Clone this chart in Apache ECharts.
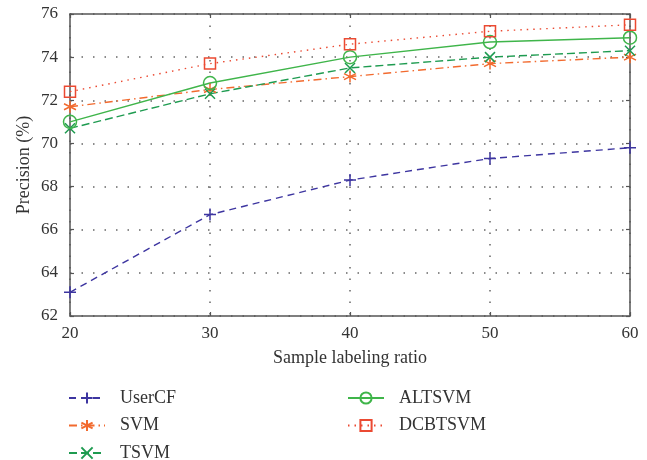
<!DOCTYPE html>
<html>
<head>
<meta charset="utf-8">
<script src="https://cdn.jsdelivr.net/npm/echarts@6/dist/echarts.min.js"></script>
<style>
  html, body { margin: 0; padding: 0; background: #fff; }
  #chart { width: 647px; height: 460px; }
</style>
</head>
<body>
<div id="chart"></div>
<script>
// Labeling ratios (x) and precision (%) of each method
const ratios = [20, 30, 40, 50, 60];
const userCF  = [63.1, 66.7, 68.3, 69.3, 69.8];
const svm     = [71.7, 72.5, 73.1, 73.7, 74.0];
const tsvm    = [70.7, 72.3, 73.5, 74.0, 74.3];
const altsvm  = [71.0, 72.8, 74.0, 74.7, 74.9];
const dcbtsvm = [72.4, 73.7, 74.6, 75.2, 75.5];

const FONT = '"Liberation Serif", "DejaVu Serif", serif';

const PLUS = 'path://M0,5L10,5M5,0L5,10';
const CROSS = 'path://M0,0L10,10M0,10L10,0';
const STAR = 'path://M5,0L5,10M0.7,2.5L9.3,7.5M0.7,7.5L9.3,2.5';

function pairs(vals) {
  return ratios.map((r, i) => [r, vals[i]]);
}

function mkSeries(name, vals, color, dash, symbol, size, width) {
  return {
    name: name,
    type: 'line',
    data: pairs(vals),
    xAxisIndex: 0,
    yAxisIndex: 0,
    symbol: symbol,
    symbolSize: size,
    showAllSymbol: true,
    color: color,
    lineStyle: { color: color, width: width || 1.4, type: dash },
    itemStyle: { color: 'rgba(255,255,255,0)', borderColor: color, borderWidth: 1.5 },
    emphasis: { disabled: true },
    animation: false,
    z: 3
  };
}

const gridLine = { show: true, lineStyle: { color: '#666', width: 1.5, type: [1.5, 10] } };
const axisLine = { show: true, lineStyle: { color: '#555', width: 1.5 } };
const tickIn = { show: true, inside: true, length: 4, lineStyle: { color: '#555', width: 1.2 } };

const legendText = { fontFamily: FONT, fontSize: 18, lineHeight: 18, color: '#333', padding: [0, 0, 0, 10] };

const chart = echarts.init(document.getElementById('chart'), null, { renderer: 'canvas' });
chart.setOption({
  backgroundColor: '#fff',
  animation: false,
  grid: { left: 70, right: 17, top: 14, bottom: 144 },
  xAxis: [
    {
      type: 'value', min: 20, max: 60, interval: 10, position: 'bottom',
      name: 'Sample labeling ratio', nameLocation: 'middle', nameGap: 33,
      nameTextStyle: { fontFamily: FONT, fontSize: 18, color: '#333' },
      axisLine: axisLine, axisTick: tickIn,
      axisLabel: { fontFamily: FONT, fontSize: 17, color: '#333', margin: 9 },
      splitLine: gridLine
    },
    {
      type: 'value', min: 20, max: 60, interval: 10, position: 'top',
      axisLine: axisLine, axisTick: tickIn, axisLabel: { show: false }, splitLine: { show: false }
    }
  ],
  yAxis: [
    {
      type: 'value', min: 62, max: 76, interval: 2, position: 'left',
      name: 'Precision (%)', nameLocation: 'middle', nameGap: 37, nameRotate: 90,
      nameMoveOverlap: false,
      nameTextStyle: { fontFamily: FONT, fontSize: 18, color: '#333' },
      axisLine: axisLine, axisTick: tickIn,
      axisLabel: { fontFamily: FONT, fontSize: 17, color: '#333', margin: 12 },
      splitLine: gridLine
    },
    {
      type: 'value', min: 62, max: 76, interval: 2, position: 'right',
      axisLine: axisLine, axisTick: tickIn, axisLabel: { show: false }, splitLine: { show: false }
    }
  ],
  legend: [
    {
      data: ['UserCF', 'SVM', 'TSVM'],
      orient: 'vertical', left: 68, top: 389, height: 80, padding: 0,
      itemWidth: 36, itemHeight: 14, itemGap: 9.5,
      textStyle: legendText
    },
    {
      data: ['ALTSVM', 'DCBTSVM'],
      orient: 'vertical', left: 347, top: 389, height: 80, padding: 0,
      itemWidth: 36, itemHeight: 14, itemGap: 9.5,
      textStyle: legendText
    }
  ],
  series: [
    mkSeries('UserCF', userCF, '#3d35a0', [7, 5], PLUS, 12),
    mkSeries('SVM', svm, '#f26a2e', [8, 4, 1.5, 4], STAR, 12),
    mkSeries('TSVM', tsvm, '#1e9b50', [8, 4], CROSS, 10),
    mkSeries('ALTSVM', altsvm, '#3fb54a', 'solid', 'circle', 13),
    mkSeries('DCBTSVM', dcbtsvm, '#eb4a32', [1.5, 5], 'rect', 11)
  ]
});
</script>
</body>
</html>
